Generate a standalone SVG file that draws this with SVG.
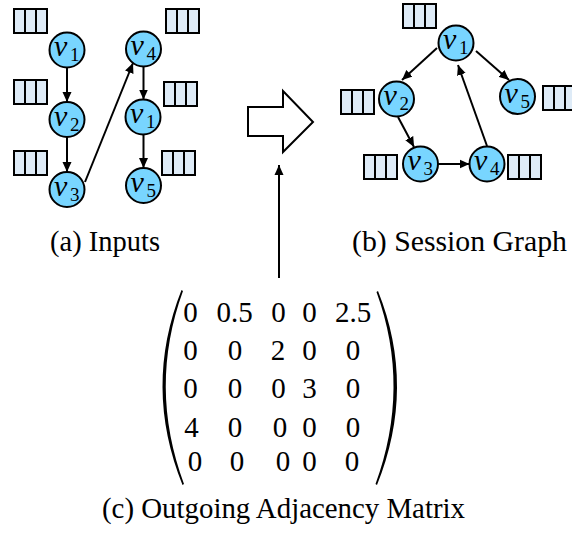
<svg xmlns="http://www.w3.org/2000/svg" width="572" height="537" viewBox="0 0 572 537">
<style>
.node{fill:#78D5FF;stroke:#000;stroke-width:2}
.box{fill:#DEEBF7;stroke:#000;stroke-width:2}
.div{stroke:#000;stroke-width:2}
.edge{stroke:#000;stroke-width:2;fill:none;marker-end:url(#ah)}
</style>
<defs>
<marker id="ah" markerUnits="userSpaceOnUse" markerWidth="11" markerHeight="10" refX="10" refY="5" orient="auto">
<path d="M0,0.5 L10,5 L0,9.5 Z" fill="#000"/>
</marker>
<g id="tribox">
<rect class="box" x="0" y="0" width="33" height="24"/>
<line class="div" x1="11" y1="0" x2="11" y2="24"/>
<line class="div" x1="22" y1="0" x2="22" y2="24"/>
</g>
</defs>
<rect width="572" height="537" fill="#fff"/>

<g font-family="Liberation Serif, Times New Roman, serif" font-style="italic" font-size="30" fill="#000">
<g id="a_v1"><use href="#tribox" x="14" y="9"/><circle class="node" cx="67" cy="50" r="17.5"/><text x="54" y="56">v<tspan font-style="normal" font-size="19" x="70" y="61">1</tspan></text></g>
<g id="a_v2"><use href="#tribox" x="14" y="80"/><circle class="node" cx="67" cy="119.5" r="17.5"/><text x="54" y="125.5">v<tspan font-style="normal" font-size="19" x="70" y="130.5">2</tspan></text></g>
<g id="a_v3"><use href="#tribox" x="14" y="151"/><circle class="node" cx="67" cy="189.5" r="17.5"/><text x="54" y="195.5">v<tspan font-style="normal" font-size="19" x="70" y="200.5">3</tspan></text></g>
<g id="a_v4"><use href="#tribox" x="166" y="9"/><circle class="node" cx="143.5" cy="49" r="17.5"/><text x="130.5" y="55">v<tspan font-style="normal" font-size="19" x="146.5" y="60">4</tspan></text></g>
<g id="a_v1b"><use href="#tribox" x="164" y="82"/><circle class="node" cx="143" cy="117" r="17.5"/><text x="130" y="123">v<tspan font-style="normal" font-size="19" x="146" y="128">1</tspan></text></g>
<g id="a_v5"><use href="#tribox" x="162" y="151"/><circle class="node" cx="143.5" cy="185.5" r="17.5"/><text x="130.5" y="191.5">v<tspan font-style="normal" font-size="19" x="146.5" y="196.5">5</tspan></text></g>

<g id="b_v1"><use href="#tribox" x="403" y="4"/><circle class="node" cx="456" cy="43" r="17.5"/><text x="443" y="49">v<tspan font-style="normal" font-size="19" x="459" y="54">1</tspan></text></g>
<g id="b_v2"><use href="#tribox" x="341" y="90"/><circle class="node" cx="396.5" cy="99" r="17.5"/><text x="383.5" y="105">v<tspan font-style="normal" font-size="19" x="399.5" y="110">2</tspan></text></g>
<g id="b_v5"><use href="#tribox" x="543" y="86"/><circle class="node" cx="517.5" cy="96.5" r="17.5"/><text x="504.5" y="102.5">v<tspan font-style="normal" font-size="19" x="520.5" y="107.5">5</tspan></text></g>
<g id="b_v3"><use href="#tribox" x="364" y="155"/><circle class="node" cx="420.5" cy="164" r="17.5"/><text x="407.5" y="170">v<tspan font-style="normal" font-size="19" x="423.5" y="175">3</tspan></text></g>
<g id="b_v4"><use href="#tribox" x="508" y="155"/><circle class="node" cx="487" cy="164" r="17.5"/><text x="474" y="170">v<tspan font-style="normal" font-size="19" x="490" y="175">4</tspan></text></g>
</g>

<g id="connectors">
<line class="edge" x1="67" y1="67.5" x2="67" y2="102"/>
<line class="edge" x1="67" y1="137" x2="67" y2="172"/>
<line class="edge" x1="85" y1="182" x2="133" y2="63"/>
<line class="edge" x1="143.5" y1="66.5" x2="143.5" y2="99.5"/>
<line class="edge" x1="143.5" y1="134.5" x2="143.5" y2="168"/>
<line class="edge" x1="437" y1="48" x2="402" y2="80"/>
<line class="edge" x1="476" y1="51" x2="509" y2="80"/>
<line class="edge" x1="398" y1="117" x2="414" y2="147"/>
<line class="edge" x1="438" y1="164" x2="469.5" y2="164"/>
<line class="edge" x1="487" y1="146" x2="458" y2="65"/>
<line class="edge" x1="279" y1="278" x2="279" y2="165"/>
</g>

<g id="block_arrow">
<polygon points="248,107 283,107 283,91 313,122 283,152 283,136 248,136" fill="#fff" stroke="#000" stroke-width="2" stroke-linejoin="miter"/>
</g>

<g font-family="Liberation Serif, Times New Roman, serif" font-size="29" fill="#000">
<text x="50" y="251" textLength="110" lengthAdjust="spacingAndGlyphs">(a) Inputs</text>
<text x="352" y="251" textLength="215" lengthAdjust="spacingAndGlyphs">(b) Session Graph</text>
<text x="102" y="518" textLength="363" lengthAdjust="spacingAndGlyphs">(c) Outgoing Adjacency Matrix</text>
</g>

<g id="matrix" font-family="Liberation Serif, Times New Roman, serif" font-size="29" fill="#000" text-anchor="middle">
<path d="M181.5,290 Q143,387 182.5,485 L184,484 Q148,387 183,291 Z" fill="#000"/>
<path d="M378,291 Q416.5,387 377,485 L375.5,484 Q411,387 376.5,292 Z" fill="#000"/>
<text x="190.5" y="322">0</text><text x="234.5" y="322">0.5</text><text x="278.5" y="322">0</text><text x="309.5" y="322">0</text><text x="353" y="322">2.5</text>
<text x="190.5" y="360">0</text><text x="235" y="360">0</text><text x="278" y="360">2</text><text x="309.5" y="360">0</text><text x="353" y="360">0</text>
<text x="190.5" y="398">0</text><text x="235" y="398">0</text><text x="278.5" y="398">0</text><text x="309.5" y="398">3</text><text x="353" y="398">0</text>
<text x="191.5" y="437">4</text><text x="235" y="437">0</text><text x="280" y="437">0</text><text x="309.5" y="437">0</text><text x="353" y="437">0</text>
<text x="195" y="471">0</text><text x="237" y="471">0</text><text x="283" y="471">0</text><text x="309.5" y="471">0</text><text x="352" y="471">0</text>
</g>
</svg>
